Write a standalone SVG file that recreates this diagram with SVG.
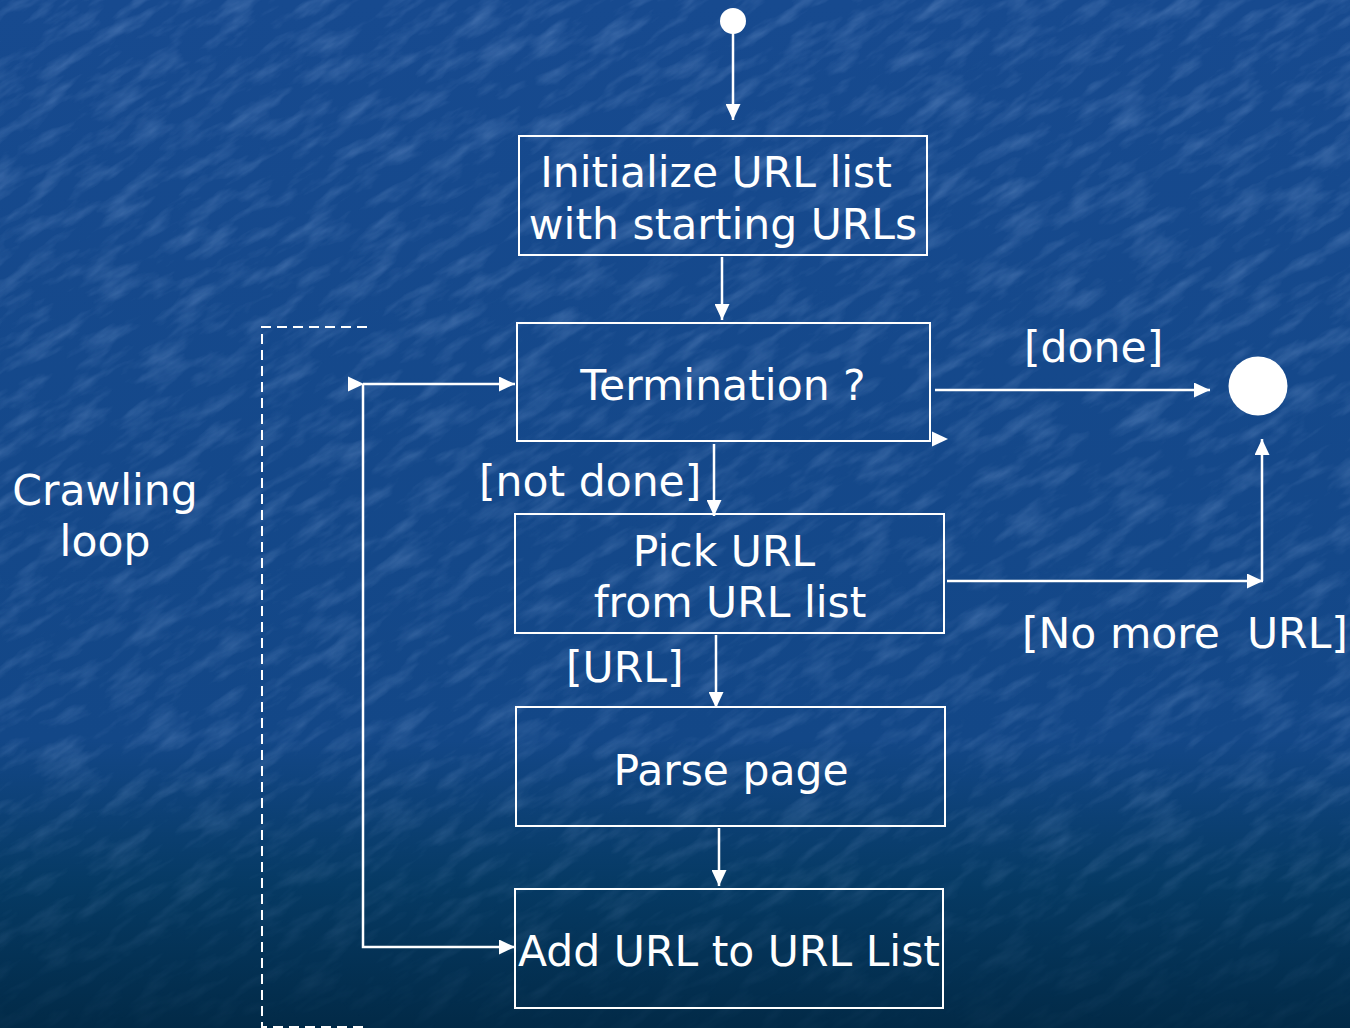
<svg xmlns="http://www.w3.org/2000/svg" width="1350" height="1028" viewBox="0 0 1350 1028">
  <defs>
    <linearGradient id="bg" x1="0" y1="0" x2="0" y2="1">
      <stop offset="0" stop-color="#174a8f"/>
      <stop offset="0.72" stop-color="#134787"/>
      <stop offset="0.86" stop-color="#063a64"/>
      <stop offset="1" stop-color="#022a47"/>
    </linearGradient>
    <linearGradient id="fade" x1="0" y1="0" x2="0" y2="1">
      <stop offset="0" stop-color="#fff" stop-opacity="1"/>
      <stop offset="0.75" stop-color="#fff" stop-opacity="0.8"/>
      <stop offset="1" stop-color="#fff" stop-opacity="0.15"/>
    </linearGradient>
    <mask id="fadeMask" maskUnits="userSpaceOnUse" x="0" y="0" width="1350" height="1028">
      <rect width="1350" height="1028" fill="url(#fade)"/>
    </mask>
    <filter id="grain" x="0" y="0" width="100%" height="100%">
      <feTurbulence type="fractalNoise" baseFrequency="0.02 0.07" numOctaves="4" seed="11" result="n"/>
      <feColorMatrix in="n" type="matrix" values="0 0 0 0 0.40  0 0 0 0 0.58  0 0 0 0 0.92  0 0 0 1.8 -0.8"/>
    </filter>
    <marker id="arrow" viewBox="0 0 16 15" refX="16" refY="7.5" markerWidth="16" markerHeight="15" markerUnits="userSpaceOnUse" orient="auto">
      <path d="M0,0 L16,7.5 L0,15 Z" fill="#fff"/>
    </marker>
    <style>
      .box { fill: none; stroke: #fff; stroke-width: 2; }
      .conn { fill: none; stroke: #fff; stroke-width: 2.5; marker-end: url(#arrow); }
      .dash { fill: none; stroke: #fff; stroke-width: 2; stroke-dasharray: 10 6; }
      .lbl { fill: #fff; font-family: "DejaVu Sans", "Liberation Sans", sans-serif; font-size: 42.5px; white-space: pre; }
      .mid { text-anchor: middle; }
    </style>
  </defs>

  <!-- textured backdrop: diagonal streaks fading toward the bottom -->
  <rect width="1350" height="1028" fill="url(#bg)"/>
  <g mask="url(#fadeMask)">
    <rect x="-600" y="-700" width="2600" height="2400" filter="url(#grain)" opacity="0.3" transform="rotate(-32 675 514)"/>
  </g>

  <!-- crawling-loop bracket -->
  <g id="loop-bracket">
    <path class="dash" d="M367,327 H262 V1027 H367"/>
    <text class="lbl mid" x="105" y="505">Crawling</text>
    <text class="lbl mid" x="105" y="556">loop</text>
  </g>

  <!-- connectors -->
  <g id="connectors">
    <line class="conn" x1="733" y1="30" x2="733" y2="120"/>
    <line class="conn" x1="722" y1="257" x2="722" y2="320"/>
    <line class="conn" x1="935" y1="390" x2="1210" y2="390"/>
    <line class="conn" x1="714" y1="444" x2="714" y2="516"/>
    <path class="conn" d="M947,581 H1263"/>
    <path class="conn" d="M1262,581 V439"/>
    <line class="conn" x1="716" y1="635" x2="716" y2="708"/>
    <line class="conn" x1="719" y1="828" x2="719" y2="886"/>
    <path class="conn" d="M363,384 H515"/>
    <path class="conn" d="M363,384 V947 H515"/>
    <path d="M348,376.5 L364,384 L348,391.5 Z" fill="#fff"/>
    <path d="M932,431.5 L948,439 L932,446.5 Z" fill="#fff"/>
    <text class="lbl" x="1024" y="362">[done]</text>
    <text class="lbl" x="479" y="496">[not done]</text>
    <text class="lbl" x="1022" y="648" xml:space="preserve">[No more  URL]</text>
    <text class="lbl" x="566" y="682">[URL]</text>
  </g>

  <g id="start">
    <circle cx="733" cy="21" r="13" fill="#fff"/>
  </g>

  <g id="end">
    <circle cx="1258" cy="386" r="29.5" fill="#fff"/>
  </g>

  <g id="init">
    <rect class="box" x="519" y="136" width="408" height="119"/>
    <text class="lbl mid" x="716" y="187">Initialize URL list</text>
    <text class="lbl mid" x="723" y="239">with starting URLs</text>
  </g>

  <g id="termination">
    <rect class="box" x="517" y="323" width="413" height="118"/>
    <text class="lbl mid" x="723" y="400">Termination ?</text>
  </g>

  <g id="pick">
    <rect class="box" x="515" y="514" width="429" height="119"/>
    <text class="lbl mid" x="724" y="566">Pick URL</text>
    <text class="lbl mid" x="730" y="617">from URL list</text>
  </g>

  <g id="parse">
    <rect class="box" x="516" y="707" width="429" height="119"/>
    <text class="lbl mid" x="731" y="785">Parse page</text>
  </g>

  <g id="add">
    <rect class="box" x="515" y="889" width="428" height="119"/>
    <text class="lbl mid" x="729" y="966">Add URL to URL List</text>
  </g>
</svg>
